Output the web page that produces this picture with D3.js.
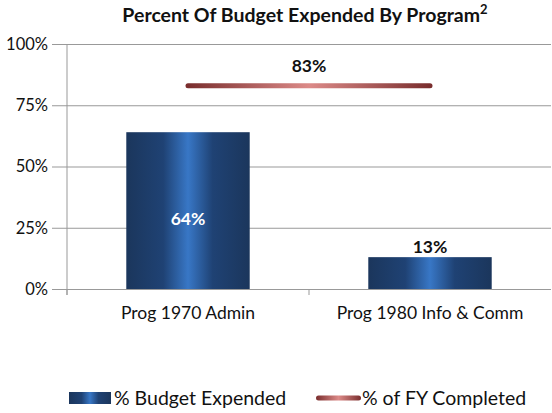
<!DOCTYPE html>
<html>
<head>
<meta charset="utf-8">
<script src="https://cdn.jsdelivr.net/npm/d3@7"></script>
<style>
body { margin: 0; background: #fff; }
text { font-family: Lato, "Open Sans", sans-serif; }
</style>
</head>
<body>
<div id="chart"></div>
<script>
// data
const categories = ['Prog 1970 Admin', 'Prog 1980 Info & Comm'];
const budgetExpended = [64, 13];
const fyCompleted = [83, 83];
const yTicks = [0, 25, 50, 75, 100];

const width = 552, height = 413;
const margin = {top: 44, right: 1, bottom: 124, left: 67};

const svg = d3.select('#chart').append('svg')
  .attr('width', width).attr('height', height);

const defs = svg.append('defs');
// bar gradient
const bg = defs.append('linearGradient').attr('id', 'barGrad')
  .attr('x1', '0%').attr('x2', '100%').attr('y1', '0%').attr('y2', '0%');
[[0, '#1b365c'], [0.3, '#1f4274'], [0.5, '#3877c6'], [0.7, '#1f4274'], [1, '#1b365c']]
  .forEach(s => bg.append('stop').attr('offset', s[0]).attr('stop-color', s[1]));
// line gradient
const lg = defs.append('linearGradient').attr('id', 'lineGrad')
  .attr('gradientUnits', 'userSpaceOnUse');
[[0, '#7a2e2e'], [0.5, '#dc8a88'], [1, '#7a2e2e']]
  .forEach(s => lg.append('stop').attr('offset', s[0]).attr('stop-color', s[1]));

const xScale = d3.scaleBand().domain(categories)
  .range([margin.left, width - margin.right]).paddingInner(0.49).paddingOuter(0.245);
const yScale = d3.scaleLinear().domain([0, 100]).range([height - margin.bottom, margin.top]);

// title
svg.append('text')
  .attr('x', 305).attr('y', 22)
  .attr('text-anchor', 'middle')
  .style('font-size', '19.5px').style('font-weight', 'bold').attr('fill', '#111')
  .html('Percent Of Budget Expended By Program<tspan dy="-8" font-size="13px">2</tspan>');

// y axis + grid
const yAxis = d3.axisLeft(yScale).tickValues(yTicks).tickFormat(d => d + '%')
  .tickSize(15).tickPadding(4);
const gy = svg.append('g').attr('transform', `translate(${margin.left},0)`).call(yAxis);
gy.select('.domain').attr('stroke', '#999').attr('d', `M0,${yScale(100)}V${yScale(0) + 6}`);
gy.selectAll('.tick line').attr('stroke', '#999').attr('x1', -15)
  .attr('x2', width - margin.right - margin.left);
gy.selectAll('.tick text').style('font-size', '16.5px').attr('fill', '#111')
  .style('font-family', 'Lato, sans-serif');

// x axis ticks (category separators)
const sepX = [margin.left, (xScale(categories[0]) + xScale.bandwidth() + xScale(categories[1])) / 2];
svg.selectAll('.sep').data(sepX).enter().append('line')
  .attr('x1', d => d).attr('x2', d => d)
  .attr('y1', yScale(0)).attr('y2', yScale(0) + 6)
  .attr('stroke', '#999');

svg.selectAll('.xlab').data(categories).enter().append('text')
  .attr('x', d => xScale(d) + xScale.bandwidth() / 2)
  .attr('y', yScale(0) + 30)
  .attr('text-anchor', 'middle')
  .style('font-size', '17.5px').attr('fill', '#111')
  .text(d => d);

// bars
svg.selectAll('.bar').data(budgetExpended).enter().append('rect')
  .attr('x', (d, i) => xScale(categories[i]))
  .attr('y', d => yScale(d))
  .attr('width', xScale.bandwidth())
  .attr('height', d => yScale(0) - yScale(d))
  .attr('fill', 'url(#barGrad)');

// bar labels
svg.selectAll('.blab').data(budgetExpended).enter().append('text')
  .attr('x', (d, i) => xScale(categories[i]) + xScale.bandwidth() / 2)
  .attr('y', (d, i) => i === 0 ? (yScale(d) + yScale(0)) / 2 + 14 : yScale(d) - 4)
  .attr('text-anchor', 'middle')
  .style('font-size', '17.5px').style('font-weight', 'bold')
  .attr('fill', (d, i) => i === 0 ? '#fff' : '#111')
  .text(d => d + '%');

// FY completed line
const cx = categories.map(c => xScale(c) + xScale.bandwidth() / 2);
lg.attr('x1', cx[0]).attr('x2', cx[1]).attr('y1', 0).attr('y2', 0);
const line = d3.line().x((d, i) => cx[i]).y(d => yScale(d));
svg.append('path').datum(fyCompleted)
  .attr('d', line)
  .attr('fill', 'none')
  .attr('stroke', 'url(#lineGrad)')
  .attr('stroke-width', 5)
  .attr('stroke-linecap', 'round');
svg.append('text')
  .attr('x', (cx[0] + cx[1]) / 2).attr('y', yScale(fyCompleted[0]) - 14)
  .attr('text-anchor', 'middle')
  .style('font-size', '17.5px').style('font-weight', 'bold').attr('fill', '#111')
  .text(fyCompleted[0] + '%');

// legend
const lgY = 398;
const leg = svg.append('g');
const lg2 = defs.append('linearGradient').attr('id', 'legLine');
[[0, '#7a2e2e'], [0.5, '#dc8a88'], [1, '#7a2e2e']]
  .forEach(s => lg2.append('stop').attr('offset', s[0]).attr('stop-color', s[1]));
leg.append('rect').attr('x', 69).attr('y', lgY - 6).attr('width', 42).attr('height', 12)
  .attr('fill', 'url(#barGrad)');
leg.append('text').attr('x', 114).attr('y', lgY + 7)
  .style('font-size', '19.5px').attr('fill', '#111').text('% Budget Expended');
leg.append('rect').attr('x', 316).attr('y', lgY - 2.5).attr('width', 45).attr('height', 5)
  .attr('rx', 2.5).attr('fill', 'url(#legLine)');
leg.append('text').attr('x', 362).attr('y', lgY + 7)
  .style('font-size', '19.5px').attr('fill', '#111').text('% of FY Completed');
</script>
</body>
</html>
